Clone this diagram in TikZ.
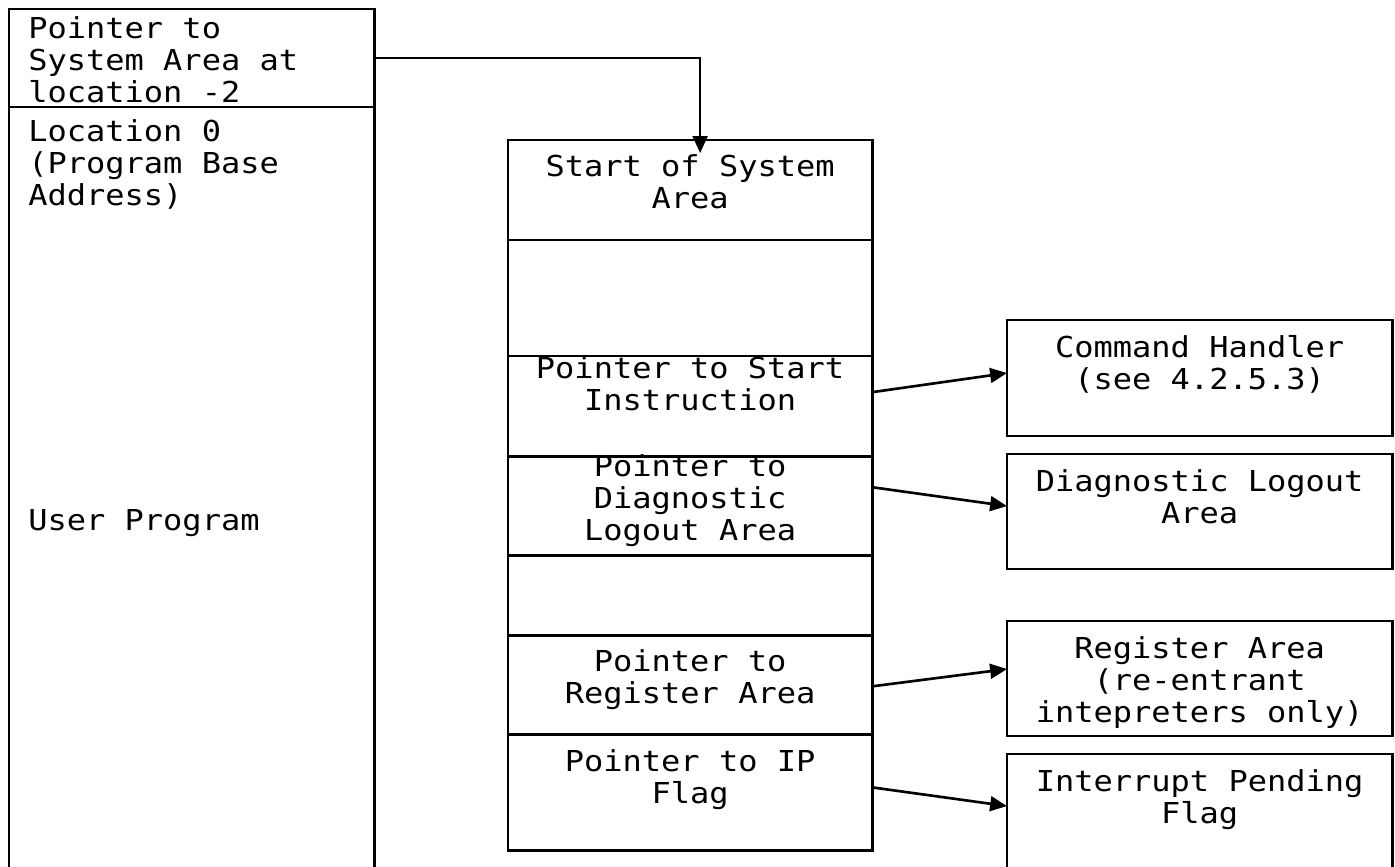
\documentclass[tikz,border=0pt]{standalone}
\usepackage{fontspec}
\newfontfamily\memfont[FakeStretch=1.11]{DejaVu Sans Mono}
\usetikzlibrary{positioning,arrows.meta}

\begin{document}
\begin{tikzpicture}[x=0.01cm, y=-0.01cm, line width=0.75pt,
        box/.style={draw, inner sep=0, outer sep=0, minimum width=3.64cm},
        sidebox/.style={draw, inner sep=0, outer sep=0, minimum width=3.85cm, anchor=north west},
        txt/.style={inner sep=0, align=center, font=\memfont\fontsize{8.2}{9.1}\selectfont},
        txtl/.style={txt, align=left},
        ptr/.style={-{Triangle[length=4.8pt,width=4.2pt]}}]
        \useasboundingbox (0,0) rectangle (1395,866);
        % user program
        \node[draw, inner sep=0, outer sep=0, minimum width=3.65cm, minimum height=0.98cm, anchor=north west] (top) at (9,9) {};
        \node[draw, inner sep=0, outer sep=0, minimum width=3.65cm, minimum height=8cm, below=0pt of top] (prog) {};
        \node[txtl, below right=0.06cm and 0.18cm of top.north west] (topt) {Pointer to\\System Area at\\location -2};
        \node[txtl, below right=0.11cm and 0.18cm of prog.north west] (loc) {Location 0\\(Program Base\\Address)};
        \node[txtl, below right=4.01cm and 0.18cm of prog.north west] (user) {User Program};
        % system area
        \node[box, minimum height=1cm, anchor=north west] (s0) at (508,140) {};
        \node[box, minimum height=1.16cm, below=0pt of s0] (s1) {};
        \node[box, minimum height=1cm, below=0pt of s1] (s2) {};
        \node[box, minimum height=0.99cm, below=0pt of s2] (s3) {};
        \node[box, minimum height=0.8cm, below=0pt of s3] (s4) {};
        \node[box, minimum height=0.99cm, below=0pt of s4] (s5) {};
        \node[box, minimum height=1.16cm, below=0pt of s5] (s6) {};
        \node[txt, below=0.13cm of s0.north] (s0t) {Start of System\\Area};
        \begin{scope}
            \clip (s2.north west) rectangle (s3.south east);
            \node[txt, below=-0.01cm of s2.north] (s2t) {Pointer to Start\\Instruction};
            \node[txt, below=-0.03cm of s3.north] (s3t) {Pointer to\\Diagnostic\\Logout Area};
        \end{scope}
        \node[txt, below=0.13cm of s5.north] (s5t) {Pointer to\\Register Area};
        \node[txt, below=0.14cm of s6.north] (s6t) {Pointer to IP\\Flag};
        % targets
        \node[sidebox, minimum height=1.16cm] (r1) at (1007,320) {};
        \node[sidebox, minimum height=1.15cm] (r2) at (1007,454) {};
        \node[sidebox, minimum height=1.15cm] (r3) at (1007,621) {};
        \node[sidebox, minimum height=1.5cm] (r4) at (1007,754) {};
        \node[txt, below=0.14cm of r1.north] (r1t) {Command Handler\\(see 4.2.5.3)};
        \node[txt, below=0.14cm of r2.north] (r2t) {Diagnostic Logout\\Area};
        \node[txt, below=0.14cm of r3.north] (r3t) {Register Area\\(re-entrant\\intepreters only)};
        \node[txt, below=0.14cm of r4.north] (r4t) {Interrupt Pending\\Flag};
        % pointers
        \coordinate (tip) at ([xshift=0.1cm, yshift=-0.13cm]s0.north);
        \path[draw, ptr](top.east) -| (tip);
        \path[draw, ptr]([yshift=0.14cm]s2.east) to ([yshift=0.05cm]r1.west);
        \path[draw, ptr]([yshift=0.185cm]s3.east) to ([yshift=0.055cm]r2.west);
        \path[draw, ptr]([yshift=-0.015cm]s5.east) to ([yshift=0.095cm]r3.west);
        \path[draw, ptr]([yshift=0.05cm]s6.east) to ([yshift=0.23cm]r4.west);
    \end{tikzpicture}
\end{document}
